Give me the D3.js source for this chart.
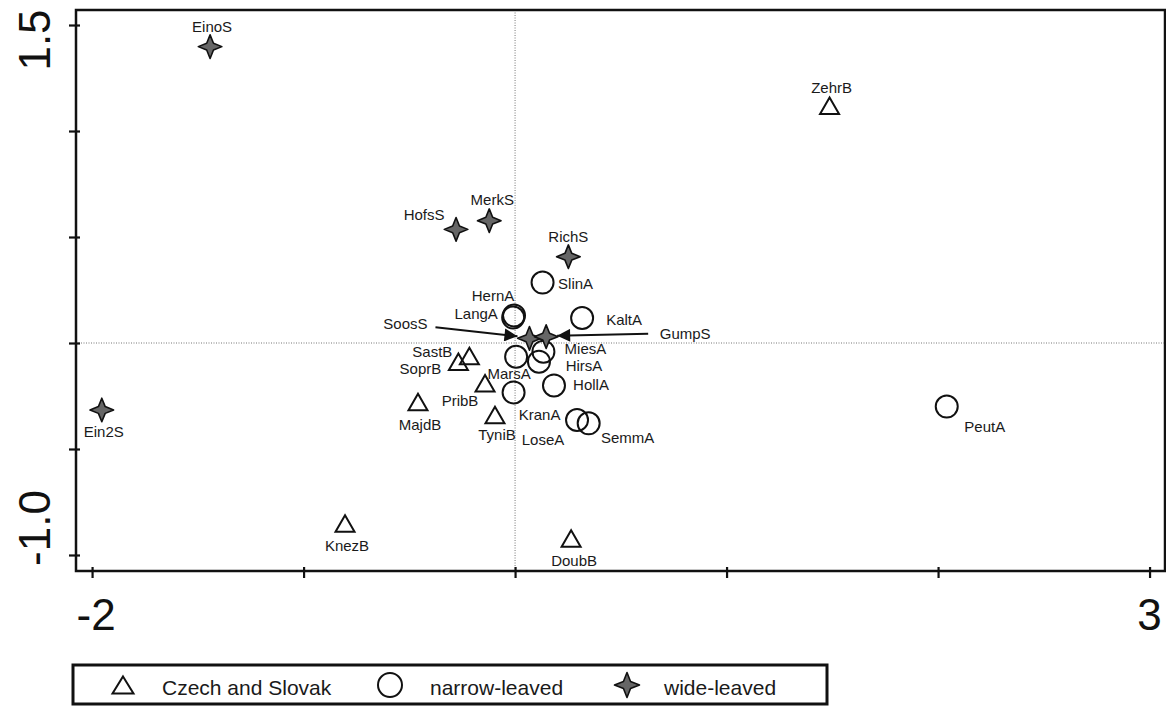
<!DOCTYPE html>
<html><head><meta charset="utf-8">
<script src="https://cdn.jsdelivr.net/npm/d3@7"></script>
<style>
body{margin:0;background:#fff}
svg{display:block}
text{font-family:Arial,"Liberation Sans",sans-serif;fill:#1a1a1a}
</style>
</head><body>
<svg id="chart" width="1166" height="706"></svg>
<script>
// ---------- data ----------
const categories = ["Czech and Slovak", "narrow-leaved", "wide-leaved"];

const czechNames = ["ZehrB","SastB","SoprB","PribB","MajdB","TyniB","KnezB","DoubB"];
const czechX     = [1.487, -0.216, -0.268, -0.142, -0.459, -0.095, -0.804, 0.265];
const czechY     = [1.119, -0.061, -0.088, -0.190, -0.278, -0.340, -0.851, -0.922];

const narrowNames = ["SlinA","HernA","LangA","KaltA","MiesA","HirsA","MarsA","HollA","KranA","LoseA","SemmA","PeutA"];
const narrowX     = [0.130, -0.005, -0.009, 0.317, 0.134, 0.113, 0.005, 0.184, -0.007, 0.293, 0.348, 2.041];
const narrowY     = [0.285, 0.130, 0.120, 0.118, -0.041, -0.088, -0.065, -0.200, -0.233, -0.363, -0.379, -0.300];

const wideNames = ["EinoS","Ein2S","HofsS","MerkS","RichS","SoosS","GumpS"];
const wideX     = [-1.442, -1.954, -0.279, -0.122, 0.252, 0.068, 0.147];
const wideY     = [1.398, -0.316, 0.536, 0.577, 0.407, 0.022, 0.030];

const xTicks = [-2, -1, 0, 1, 2, 3];
const yTicks = [-1.0, -0.5, 0, 0.5, 1.0, 1.5];
const xTickLabels = ["-2", "", "", "", "", "3"];
const yTickLabels = ["-1.0", "", "", "", "", "1.5"];
const xLimits = [-2.076, 3.073];
const yLimits = [-1.0755, 1.5708];

// ---------- layout (label placement, pixels) ----------
const labelOffset = {
  ZehrB:[2,-18], SastB:[-37,-4], SoprB:[-38,7], PribB:[-25,17], MajdB:[2,23], TyniB:[2,20], KnezB:[2,22], DoubB:[3,22],
  SlinA:[33,1], HernA:[-21,-20], LangA:[-37,-4], KaltA:[42,2], MiesA:[42,-3], HirsA:[45,4], MarsA:[-7,17], HollA:[37,-1],
  KranA:[26,22], LoseA:[-34,20], SemmA:[39,14], PeutA:[38,20],
  EinoS:[2,-20], Ein2S:[2,22], HofsS:[-32,-15], MerkS:[3,-21], RichS:[0,-20], SoosS:[-124,-15], GumpS:[139,-3]
};
const arrowOffset = { SoosS:{from:[-94,-11], to:[-12,-2]}, GumpS:{from:[102,-3], to:[11,-1]} };

const frame = {left:76, right:1165, top:10, bottom:571};
const svg = d3.select("#chart");

const x = d3.scaleLinear().domain(xLimits).range([frame.left, frame.right]);
const y = d3.scaleLinear().domain(yLimits).range([frame.bottom, frame.top]);

// zero reference lines
svg.append("line").attr("x1", x(0)).attr("x2", x(0)).attr("y1", frame.top).attr("y2", frame.bottom)
  .attr("stroke", "#777").attr("stroke-width", 1).attr("stroke-dasharray", "1,1.5");
svg.append("line").attr("x1", frame.left).attr("x2", frame.right).attr("y1", y(0)).attr("y2", y(0))
  .attr("stroke", "#777").attr("stroke-width", 1).attr("stroke-dasharray", "1,1.5");

// axes (ticks)
const gx = svg.append("g").attr("transform", `translate(0,${frame.bottom})`)
  .call(d3.axisBottom(x).tickValues(xTicks).tickFormat("").tickSizeOuter(0).tickSize(7));
gx.select(".domain").remove();
gx.selectAll(".tick line").attr("y1", -4).attr("y2", 7).attr("stroke", "#111").attr("stroke-width", 2.2);

const gy = svg.append("g").attr("transform", `translate(${frame.left},0)`)
  .call(d3.axisLeft(y).tickValues(yTicks).tickFormat("").tickSizeOuter(0).tickSize(7));
gy.select(".domain").remove();
gy.selectAll(".tick line").attr("x1", 4).attr("x2", -7).attr("stroke", "#111").attr("stroke-width", 2.2);

// tick labels
const xLabNudge = {"-2":4, "3":0};
xTicks.forEach((t, i) => {
  if (!xTickLabels[i]) return;
  svg.append("text").attr("x", x(t) + xLabNudge[xTickLabels[i]]).attr("y", 630)
    .attr("text-anchor", "middle").attr("font-size", 44).style("fill", "#111").text(xTickLabels[i]);
});
const yLabNudge = {"1.5":15, "-1.0":-27};
yTicks.forEach((t, i) => {
  if (!yTickLabels[i]) return;
  const cy = y(t) + yLabNudge[yTickLabels[i]];
  svg.append("text").attr("transform", `translate(50,${cy}) rotate(-90)`)
    .attr("text-anchor", "middle").attr("font-size", 44).style("fill", "#111").text(yTickLabels[i]);
});

// frame
svg.append("rect").attr("x", frame.left).attr("y", frame.top)
  .attr("width", frame.right - frame.left).attr("height", frame.bottom - frame.top)
  .attr("fill", "none").attr("stroke", "#111").attr("stroke-width", 2.5);

// symbols
function triPath(w, h){ return `M0,${-h/2}L${w/2},${h/2}L${-w/2},${h/2}Z`; }
function starPath(R, r){
  const pts = [];
  for (let k = 0; k < 8; k++){
    const a = k * Math.PI / 4, rad = k % 2 === 0 ? R : r;
    pts.push([rad * Math.sin(a), -rad * Math.cos(a)]);
  }
  return "M" + pts.map(p => p[0].toFixed(2) + "," + p[1].toFixed(2)).join("L") + "Z";
}
const TRI = triPath(19, 16.5), STAR = starPath(11.8, 4.8);

function draw(names, xs, ys, kind){
  const data = names.map((n, i) => ({name:n, x:xs[i], y:ys[i]}));
  const g = svg.append("g");
  data.forEach(d => {
    const px = x(d.x), py = y(d.y);
    if (kind === "tri") {
      g.append("path").attr("d", TRI).attr("transform", `translate(${px},${py})`)
        .attr("fill", "none").attr("stroke", "#111").attr("stroke-width", 2);
    } else if (kind === "circ") {
      g.append("circle").attr("cx", px).attr("cy", py).attr("r", 11)
        .attr("fill", "none").attr("stroke", "#111").attr("stroke-width", 2);
    } else {
      g.append("path").attr("d", STAR).attr("transform", `translate(${px},${py})`)
        .attr("fill", "#666").attr("stroke", "#111").attr("stroke-width", 1.6).attr("stroke-linejoin", "round");
    }
  });
  return data;
}
const allPts = [].concat(
  draw(czechNames, czechX, czechY, "tri"),
  draw(narrowNames, narrowX, narrowY, "circ"),
  draw(wideNames, wideX, wideY, "star")
);

// labels
allPts.forEach(d => {
  const o = labelOffset[d.name] || [0, -20];
  svg.append("text").attr("x", x(d.x) + o[0]).attr("y", y(d.y) + o[1]).attr("dy", "0.36em")
    .attr("text-anchor", "middle").attr("font-size", 15).text(d.name);
});

// arrows
const defs = svg.append("defs");
defs.append("marker").attr("id", "ah").attr("viewBox", "0 0 10 10").attr("refX", 10).attr("refY", 5)
  .attr("markerUnits", "userSpaceOnUse").attr("markerWidth", 17).attr("markerHeight", 13).attr("orient", "auto")
  .append("path").attr("d", "M0,0L10,5L0,10Z").attr("fill", "#111");
allPts.filter(d => arrowOffset[d.name]).forEach(d => {
  const a = arrowOffset[d.name], px = x(d.x), py = y(d.y);
  svg.append("line").attr("x1", px + a.from[0]).attr("y1", py + a.from[1])
    .attr("x2", px + a.to[0]).attr("y2", py + a.to[1])
    .attr("stroke", "#111").attr("stroke-width", 2).attr("marker-end", "url(#ah)");
});

// legend
const lg = svg.append("g");
lg.append("rect").attr("x", 73).attr("y", 665).attr("width", 754).attr("height", 39)
  .attr("fill", "none").attr("stroke", "#111").attr("stroke-width", 3);
const legendSym = [{x:123, kind:"tri", tx:162}, {x:390, kind:"circ", tx:430}, {x:627, kind:"star", tx:664}];
categories.forEach((c, i) => {
  const s = legendSym[i], cy = 685;
  if (s.kind === "tri") lg.append("path").attr("d", triPath(21, 17)).attr("transform", `translate(${s.x},${cy})`)
      .attr("fill", "none").attr("stroke", "#111").attr("stroke-width", 2);
  else if (s.kind === "circ") lg.append("circle").attr("cx", s.x).attr("cy", cy).attr("r", 12)
      .attr("fill", "none").attr("stroke", "#111").attr("stroke-width", 2);
  else lg.append("path").attr("d", starPath(12.5, 5)).attr("transform", `translate(${s.x},${cy})`)
      .attr("fill", "#666").attr("stroke", "#111").attr("stroke-width", 1.6).attr("stroke-linejoin", "round");
  lg.append("text").attr("x", s.tx).attr("y", 695).attr("font-size", 21).text(c);
});
</script>
</body></html>
